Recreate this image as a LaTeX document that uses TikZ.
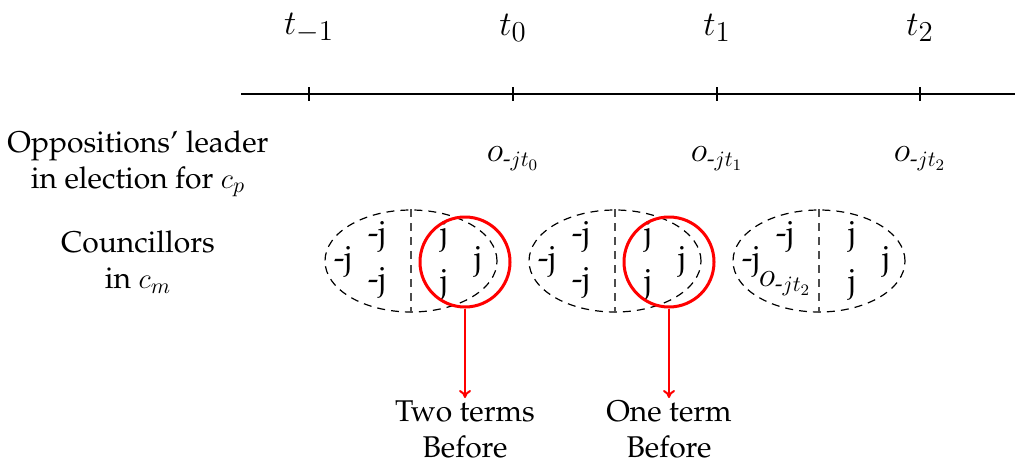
\documentclass[tikz,border=0pt]{standalone}
\usepackage[T1]{fontenc}
\renewcommand{\rmdefault}{ppl}
\usepackage{amsmath}
\usetikzlibrary{arrows.meta,shapes.geometric,positioning}

\begin{document}
\begin{tikzpicture}[
  x=0.5pt,y=-0.5pt,
  txt/.style={font=\fontsize{15}{18}\selectfont,align=center,inner sep=1pt},
  tlabel/.style={font=\fontsize{19}{22}\selectfont},
  olabel/.style={font=\fontsize{16}{18}\selectfont},
  vote/.style={font=\fontsize{16}{18}\selectfont,inner sep=0pt},
  council/.style={draw,dash pattern=on 4pt off 3pt,ellipse,minimum width=86pt,minimum height=51pt,inner sep=0pt,line width=0.6pt},
  divider/.style={draw=black!70,dash pattern=on 4pt off 3pt,line width=0.6pt},
  hilite/.style={draw=red,circle,line width=1.5pt,minimum size=45pt,inner sep=0pt},
  arrow/.style={-{To[length=4pt,width=6pt]},red,line width=1pt},
  tickmark/.style={line width=1pt}
]
\useasboundingbox (0,0) rectangle (1015,467);
\coordinate (start) at (241,94);
\coordinate (end) at (1015,94);
\draw[line width=1.2pt] (start) -- (end);
\foreach \n/\x/\lab in {m/309/{-1},a/513/0,b/717/1,c/920/2} {
  \draw[tickmark] (\x,87) -- (\x,101);
  \node[tlabel] (t\n) at (\x,28) {$t_{\lab}$};
}
\foreach \n/\x/\lab in {a/513/0,b/717/1,c/920/2}
  \node[olabel] (o\n) at (\x,159) {$o_{\text{-}jt_{\lab}}$};

\node[txt] (opp) at (138,164) {Oppositions' leader\\in election for $c_p$};
\node[txt] (cm) at (138,262) {Councillors\\in $c_m$};

\foreach \n/\x in {a/411,b/615,c/819} {
  \node[council] (e\n) at (\x,261) {};
  \draw[divider] (e\n.north) -- (e\n.south);
  \node[vote] at (\x-34,237) {-j};
  \node[vote] at (\x-68,262) {-j};
  \node[vote] at (\x+33,237) {j};
  \node[vote] at (\x+67,262) {j};
  \node[vote] at (\x+33,285) {j};
}
\node[vote] at (377,283) {-j};
\node[vote] at (581,283) {-j};
\node[olabel] (ox) at (785,284) {$o_{\text{-}jt_2}$};

\node[hilite] (h1) at (465,262) {};
\node[hilite] (h2) at (669,262) {};
\node[txt,anchor=north] (l1) at (465,398) {Two terms\\Before};
\node[txt,anchor=north] (l2) at (669,398) {One term\\Before};
\draw[arrow] (h1.south) -- (l1.north);
\draw[arrow] (h2.south) -- (l2.north);
\end{tikzpicture}
\end{document}
